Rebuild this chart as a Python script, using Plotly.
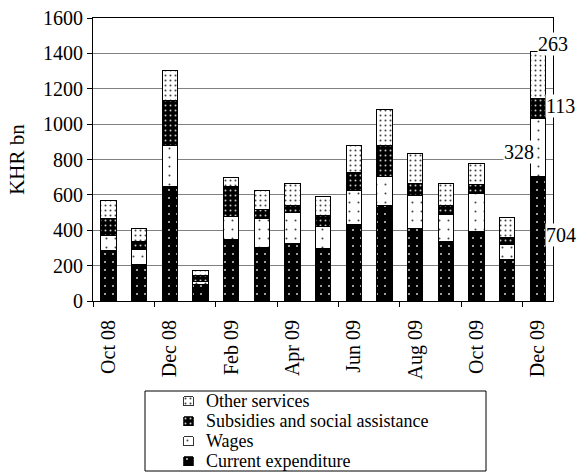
import plotly.graph_objects as go

months = ["Oct 08", "Nov 08", "Dec 08", "Jan 09", "Feb 09", "Mar 09", "Apr 09", "May 09",
          "Jun 09", "Jul 09", "Aug 09", "Sep 09", "Oct 09", "Nov 09", "Dec 09"]
current_exp = [284, 209, 646, 96, 349, 305, 326, 298, 434, 539, 411, 335, 392, 232, 704]
wages = [89, 83, 236, 13, 131, 162, 175, 126, 193, 164, 184, 155, 217, 88, 328]
subsidies = [91, 45, 254, 38, 166, 51, 38, 62, 100, 175, 70, 49, 51, 38, 113]
other_services = [107, 72, 166, 28, 51, 104, 126, 104, 151, 202, 168, 126, 120, 113, 263]

label_months = months[::2]

FONT = "Liberation Serif"
W, H = 580, 474
ML, MR, MT, MB = 93, 27, 18, 2
PLOT_BOTTOM_PX = 301


def px_x(p):
    return (p - ML) / (W - ML - MR)


def px_y(p):
    return (H - MB - p) / (H - MT - MB)


x = list(range(len(months)))

series = [
    ("Current expenditure", current_exp, dict(shape=".", bgcolor="black", fgcolor="#d0d0d0", size=8, solidity=0.05, fillmode="replace")),
    ("Wages", wages, dict(shape=".", bgcolor="white", fgcolor="#444444", size=9, solidity=0.04, fillmode="replace")),
    ("Subsidies and social assistance", subsidies, dict(shape=".", bgcolor="black", fgcolor="#c8c8c8", size=5, solidity=0.12, fillmode="replace")),
    ("Other services", other_services, dict(shape=".", bgcolor="white", fgcolor="#444444", size=5, solidity=0.13, fillmode="replace")),
]

fig = go.Figure()
for name, vals, pat in series:
    fig.add_trace(go.Bar(
        x=x, y=vals, name=name, width=0.5, showlegend=False,
        marker=dict(color=pat["bgcolor"], pattern=pat, line=dict(color="black", width=1)),
    ))

# legend key panel below the chart
LEG_TOP, LEG_ROW = 391, 20
legend_order = list(reversed(series))
for row, (name, vals, pat) in enumerate(legend_order):
    fig.add_trace(go.Bar(
        x=[1], y=[row], orientation="h", width=0.45, base=0, showlegend=False,
        xaxis="x2", yaxis="y2", hoverinfo="skip",
        marker=dict(color=pat["bgcolor"], pattern=pat, line=dict(color="black", width=0.8)),
    ))

annotations = []
for row, (name, vals, pat) in enumerate(legend_order):
    annotations.append(dict(
        xref="paper", yref="paper", x=px_x(204), y=px_y(LEG_TOP + LEG_ROW * (row + 0.5)),
        text=name, xanchor="left", yanchor="middle", showarrow=False,
        font=dict(family=FONT, size=18, color="black"),
    ))

# labels for the last bar
last = len(months) - 1
c, w, s, o = current_exp[last], wages[last], subsidies[last], other_services[last]
ann_font = dict(family=FONT, size=20, color="black")
bar_ann = [
    dict(x=last, y=c / 2, text=str(c), xanchor="left", yanchor="middle", xshift=7, yshift=4),
    dict(x=last, y=c + w / 2, text=str(w), xanchor="right", yanchor="middle", xshift=-3, yshift=-5),
    dict(x=last, y=c + w + s / 2, text=str(s), xanchor="left", yanchor="middle", xshift=7, yshift=2),
    dict(x=last, y=c + w + s + o, text=str(o), xanchor="center", yanchor="bottom", xshift=15, yshift=-4),
]
for a in bar_ann:
    a.update(xref="x", yref="y", showarrow=False, font=ann_font, bgcolor="white", borderpad=0)
annotations += bar_ann

fig.update_layout(
    width=W, height=H,
    margin=dict(l=ML, r=MR, t=MT, b=MB, autoexpand=False),
    paper_bgcolor="white", plot_bgcolor="white",
    barmode="stack", bargap=0.5,
    font=dict(family=FONT, size=20, color="black"),
    showlegend=False,
    annotations=annotations,
    shapes=[dict(type="rect", xref="paper", yref="paper",
                 x0=px_x(145), x1=px_x(486), y0=px_y(LEG_TOP + 4 * LEG_ROW), y1=px_y(LEG_TOP),
                 line=dict(color="black", width=1), fillcolor="rgba(0,0,0,0)")],
    xaxis=dict(
        anchor="y",
        range=[-0.5, len(months) - 0.5],
        tickmode="array", tickvals=x[::2], ticktext=label_months,
        tickangle=-90, ticks="", ticklabelstandoff=10,
        tickfont=dict(family=FONT, size=20),
        showline=True, linecolor="black", linewidth=1, mirror=True,
        showgrid=False, zeroline=False, automargin=False,
        minor=dict(tickmode="array", tickvals=[v - 0.5 for v in x[::2]], ticks="outside",
                   ticklen=5, tickcolor="black", tickwidth=1, showgrid=False),
    ),
    yaxis=dict(
        anchor="x",
        domain=[px_y(PLOT_BOTTOM_PX), 1],
        range=[0, 1600], dtick=200,
        ticks="outside", ticklen=5, tickcolor="black",
        tickfont=dict(family=FONT, size=20),
        title=dict(text="KHR bn", font=dict(family=FONT, size=21), standoff=12),
        showline=True, linecolor="black", linewidth=1, mirror=True,
        showgrid=True, gridcolor="#808080", gridwidth=1, zeroline=False, automargin=False,
    ),
    xaxis2=dict(domain=[px_x(183), px_x(194)], range=[-0.1, 1.1], anchor="y2",
                visible=False, fixedrange=True),
    yaxis2=dict(domain=[px_y(LEG_TOP + 4 * LEG_ROW), px_y(LEG_TOP)], range=[3.5, -0.5], anchor="x2",
                visible=False, fixedrange=True),
)

fig.write_html("out.html", config={"displayModeBar": False},
               post_script="document.body.style.margin='0';")
